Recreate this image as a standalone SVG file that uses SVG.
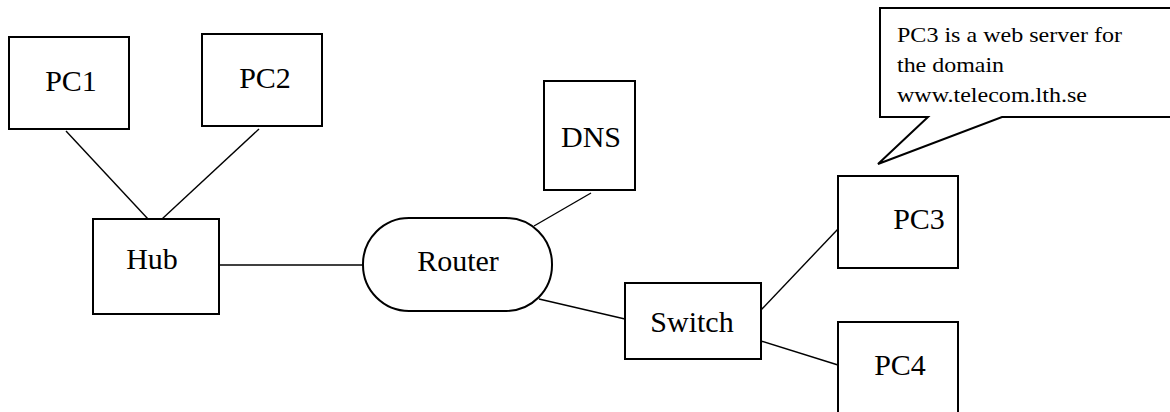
<svg xmlns="http://www.w3.org/2000/svg" width="1170" height="412" viewBox="0 0 1170 412">
<style>
.box{fill:#fff;stroke:#000;stroke-width:2}
.ln{stroke:#000;stroke-width:1.4;fill:none}
.lbl{font-family:"Liberation Serif","Times New Roman",serif;font-size:30px;fill:#000;text-anchor:middle}
.note{font-family:"Liberation Serif","Times New Roman",serif;font-size:21px;fill:#000}
</style>
<rect width="1170" height="412" fill="#fff"/>
<g id="connectors">
<line class="ln" x1="66" y1="131" x2="148" y2="219"/>
<line class="ln" x1="259" y1="129" x2="162" y2="219"/>
<line class="ln" x1="219" y1="265" x2="363" y2="265"/>
<line class="ln" x1="591" y1="193" x2="534" y2="226"/>
<line class="ln" x1="539" y1="299" x2="625" y2="319"/>
<line class="ln" x1="761" y1="310" x2="838" y2="229"/>
<line class="ln" x1="761" y1="341" x2="838" y2="365"/>
</g>
<g id="pc1"><rect class="box" x="9" y="37" width="120" height="92"/><text class="lbl" x="71" y="91">PC1</text></g>
<g id="pc2"><rect class="box" x="202" y="34" width="120" height="92"/><text class="lbl" x="265" y="88">PC2</text></g>
<g id="hub"><rect class="box" x="93" y="219" width="126" height="95"/><text class="lbl" x="152" y="269">Hub</text></g>
<g id="router"><rect class="box" x="363" y="218" width="189" height="93" rx="46" ry="46"/><text class="lbl" x="458" y="271">Router</text></g>
<g id="dns"><rect class="box" x="544" y="81" width="91" height="109"/><text class="lbl" x="591" y="147">DNS</text></g>
<g id="switch"><rect class="box" x="625" y="283" width="136" height="76"/><text class="lbl" x="692" y="332">Switch</text></g>
<g id="pc3"><rect class="box" x="838" y="176" width="120" height="92"/><text class="lbl" x="919" y="229">PC3</text></g>
<g id="pc4"><rect class="box" x="838" y="322" width="120" height="100"/><text class="lbl" x="900" y="375">PC4</text></g>
<g id="callout">
<path class="box" d="M1175,8 H880 V117 H928 L878,164 L1002,117 H1175 Z"/>
<text class="note" x="897" y="42" textLength="225" lengthAdjust="spacingAndGlyphs">PC3 is a web server for</text>
<text class="note" x="897" y="72" textLength="107" lengthAdjust="spacingAndGlyphs">the domain</text>
<text class="note" x="897" y="102" textLength="190" lengthAdjust="spacingAndGlyphs">www.telecom.lth.se</text>
</g>
</svg>
